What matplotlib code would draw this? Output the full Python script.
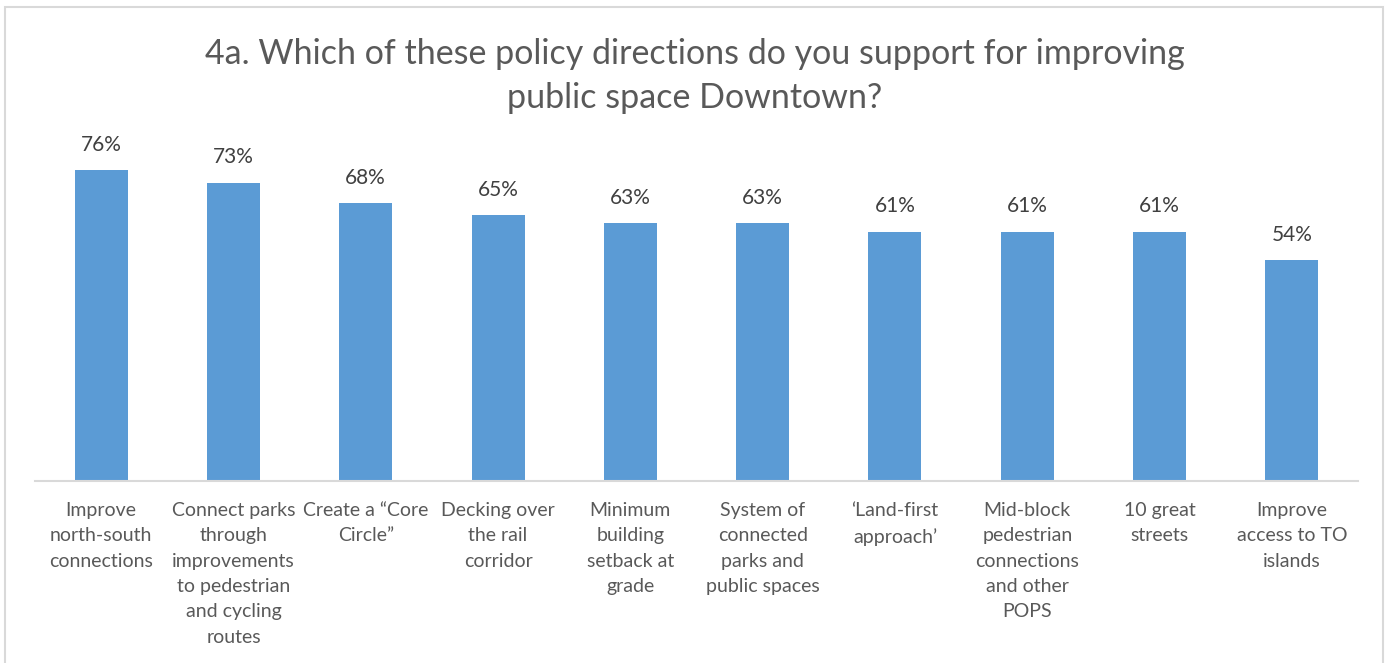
import matplotlib
matplotlib.use("Agg")
import matplotlib.pyplot as plt
from matplotlib.patches import Rectangle

categories = [
    "Improve\nnorth-south\nconnections",
    "Connect parks\nthrough\nimprovements\nto pedestrian\nand cycling\nroutes",
    "Create a \u201cCore\nCircle\u201d",
    "Decking over\nthe rail\ncorridor",
    "Minimum\nbuilding\nsetback at\ngrade",
    "System of\nconnected\nparks and\npublic spaces",
    "\u2018Land-first\napproach\u2019",
    "Mid-block\npedestrian\nconnections\nand other\nPOPS",
    "10 great\nstreets",
    "Improve\naccess to TO\nislands",
]
support = [0.76, 0.73, 0.68, 0.65, 0.63, 0.63, 0.61, 0.61, 0.61, 0.54]

plt.rcParams["font.family"] = ["Lato", "DejaVu Sans"]
text_color = "#595959"

fig = plt.figure(figsize=(13.89, 6.63), dpi=100)
fig.patches.append(Rectangle((5 / 1389, -0.01), 1378 / 1389, 1 - 7 / 663 + 0.01,
                             transform=fig.transFigure, fill=False,
                             edgecolor="#d9d9d9", linewidth=1.5))

ax = fig.add_axes([35 / 1389, 1 - 481 / 663, 1323 / 1389, 327 / 663])
x = range(len(categories))
bars = ax.bar(x, support, width=0.4, color="#5B9BD5")

for b, v in zip(bars, support):
    ax.annotate(f"{v:.0%}", (b.get_x() + b.get_width() / 2, v),
                xytext=(0, 11), textcoords="offset points",
                ha="center", va="bottom", fontsize=15, color="#404040")

ax.set_xlim(-0.5, len(categories) - 0.5)
ax.set_ylim(0, 0.8)
ax.set_xticks(list(x))
ax.set_xticklabels(categories, fontsize=14, color=text_color, linespacing=1.6)
ax.tick_params(axis="x", length=0, pad=15)
ax.set_yticks([])
for side in ["top", "left", "right"]:
    ax.spines[side].set_visible(False)
ax.spines["bottom"].set_color("#d9d9d9")
ax.spines["bottom"].set_linewidth(1.5)

fig.text(0.5, 1 - 76 / 663,
         "4a. Which of these policy directions do you support for improving\npublic space Downtown?",
         ha="center", va="center", fontsize=24.5, color=text_color, linespacing=1.5)

fig.savefig("out.png", dpi=100)
